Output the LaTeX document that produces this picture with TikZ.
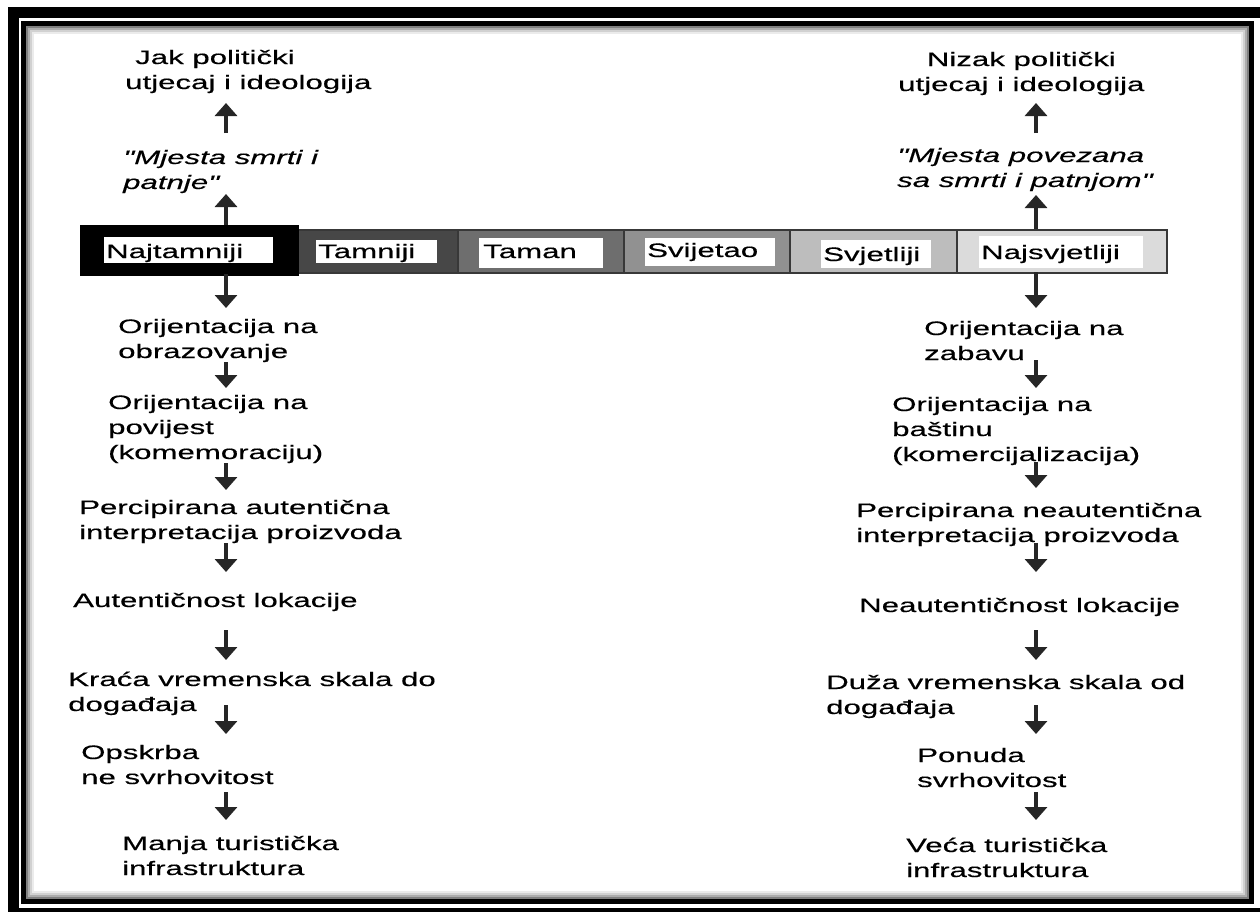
\documentclass[tikz,border=0pt]{standalone}
\usepackage{fontspec}
\setmainfont[FakeStretch=1.6,FakeBold=0.4]{Liberation Sans}
\newfontfamily\qfnt[FakeStretch=1.6,FakeBold=0.4]{Liberation Sans}
\usetikzlibrary{arrows.meta}
\newcommand{\sq}{{\qfnt\itshape\char34\relax}}
\begin{document}
\begin{tikzpicture}[x=1pt,y=-1pt,
  txt/.style={anchor=base west, inner sep=0pt, font=\fontsize{19.5pt}{25pt}\selectfont},
  itxt/.style={txt, font=\fontsize{19.5pt}{25pt}\selectfont\itshape},
  arr/.style={-{Triangle[width=22pt,length=13pt]}, line width=3.5pt, draw=black!85},
  cell/.style={draw=black!78, line width=2pt, inner sep=0pt, anchor=north west, minimum height=43pt},
  wbox/.style={fill=white}
]
\useasboundingbox (0,0) rectangle (1260,911);
\clip (0,0) rectangle (1260,911);
\fill[white] (0,0) rectangle (1260,911);
% frame
\draw[line width=11pt] (13,12.5) rectangle (1272,913.5);
\draw[line width=5pt] (23.5,23.5) rectangle (1251,901);
\foreach \d/\c in {1/50,3/32,5/18,7/8}
  \draw[black!\c, line width=2pt] (26+\d,26+\d) rectangle (1248.5-\d,898.5-\d);

% scale bar
\node[cell, fill=black!72, minimum width=160pt] (c2) at (297,229) {};
\node[cell, fill=black!57, minimum width=166pt] (c3) at (457,229) {};
\node[cell, fill=black!43, minimum width=166pt] (c4) at (623,229) {};
\node[cell, fill=black!26, minimum width=167pt] (c5) at (789,229) {};
\node[cell, fill=black!14, minimum width=210pt] (c6) at (956,229) {};
\node[cell, fill=black, draw=black, minimum width=217pt, minimum height=49pt] (c1) at (80,225) {};

\fill[wbox] (104,237) rectangle (273,263);
\fill[wbox] (316,240) rectangle (437,263);
\fill[wbox] (479,238) rectangle (603,268);
\fill[wbox] (645,238) rectangle (775,266);
\fill[wbox] (821,240) rectangle (931,268);
\fill[wbox] (979,236) rectangle (1143,268);
\node[txt] (l1) at (106,258) {Najtamniji};
\node[txt] (l2) at (318,258) {Tamniji};
\node[txt] (l3) at (483,258) {Taman};
\node[txt] (l4) at (647,257) {Svijetao};
\node[txt] (l5) at (823,261) {Svjetliji};
\node[txt] (l6) at (981,259) {Najsvjetliji};

% top texts
\node[txt] (t1) at (125,64) {\begin{tabular}[t]{@{}l@{}}\hspace*{10pt}Jak politički\\utjecaj i ideologija\end{tabular}};
\node[txt] (t2) at (898,66) {\begin{tabular}[t]{@{}c@{}}Nizak politički\\utjecaj i ideologija\end{tabular}};
\node[itxt] (m1) at (123,164) {\begin{tabular}[t]{@{}l@{}}\sq Mjesta smrti i\\patnje\sq\end{tabular}};
\node[itxt] (m2) at (897,162) {\begin{tabular}[t]{@{}l@{}}\sq Mjesta povezana\\sa smrti i patnjom\sq\end{tabular}};

% left column
\node[txt] (o1) at (118,333) {\begin{tabular}[t]{@{}l@{}}Orijentacija na\\obrazovanje\end{tabular}};
\node[txt] (o2) at (108,409) {\begin{tabular}[t]{@{}l@{}}Orijentacija na\\povijest\\(komemoraciju)\end{tabular}};
\node[txt] (o3) at (79,514) {\begin{tabular}[t]{@{}l@{}}Percipirana autentična\\interpretacija proizvoda\end{tabular}};
\node[txt] (o4) at (73,607) {Autentičnost lokacije};
\node[txt] (o5) at (68,686) {\begin{tabular}[t]{@{}l@{}}Kraća vremenska skala do\\događaja\end{tabular}};
\node[txt] (o6) at (81,759) {\begin{tabular}[t]{@{}l@{}}Opskrba\\ne svrhovitost\end{tabular}};
\node[txt] (o7) at (122,850) {\begin{tabular}[t]{@{}l@{}}Manja turistička\\infrastruktura\end{tabular}};

% right column
\node[txt] (r1) at (924,335) {\begin{tabular}[t]{@{}l@{}}Orijentacija na\\zabavu\end{tabular}};
\node[txt] (r2) at (892,411) {\begin{tabular}[t]{@{}l@{}}Orijentacija na\\baštinu\\(komercijalizacija)\end{tabular}};
\node[txt] (r3) at (856,517) {\begin{tabular}[t]{@{}l@{}}Percipirana neautentična\\interpretacija proizvoda\end{tabular}};
\node[txt] (r4) at (859,612) {Neautentičnost lokacije};
\node[txt] (r5) at (826,689) {\begin{tabular}[t]{@{}l@{}}Duža vremenska skala od\\događaja\end{tabular}};
\node[txt] (r6) at (917,762) {\begin{tabular}[t]{@{}l@{}}Ponuda\\svrhovitost\end{tabular}};
\node[txt] (r7) at (906,852) {\begin{tabular}[t]{@{}l@{}}Veća turistička\\infrastruktura\end{tabular}};

% arrows
\foreach \s/\e [count=\k] in {133/103, 225/194, 274/308, 362/388, 463/490, 543/572, 630/660, 705/734, 792/820} {
  \coordinate (la\k) at (226,\s);
  \coordinate (lb\k) at (226,\e);
  \draw[arr] (la\k) -- (lb\k);
}
\foreach \s/\e [count=\k] in {133/103, 229/195, 272/308, 360/388, 462/488, 543/572, 630/660, 705/734, 792/820} {
  \coordinate (ra\k) at (1036,\s);
  \coordinate (rb\k) at (1036,\e);
  \draw[arr] (ra\k) -- (rb\k);
}
\end{tikzpicture}
\end{document}
